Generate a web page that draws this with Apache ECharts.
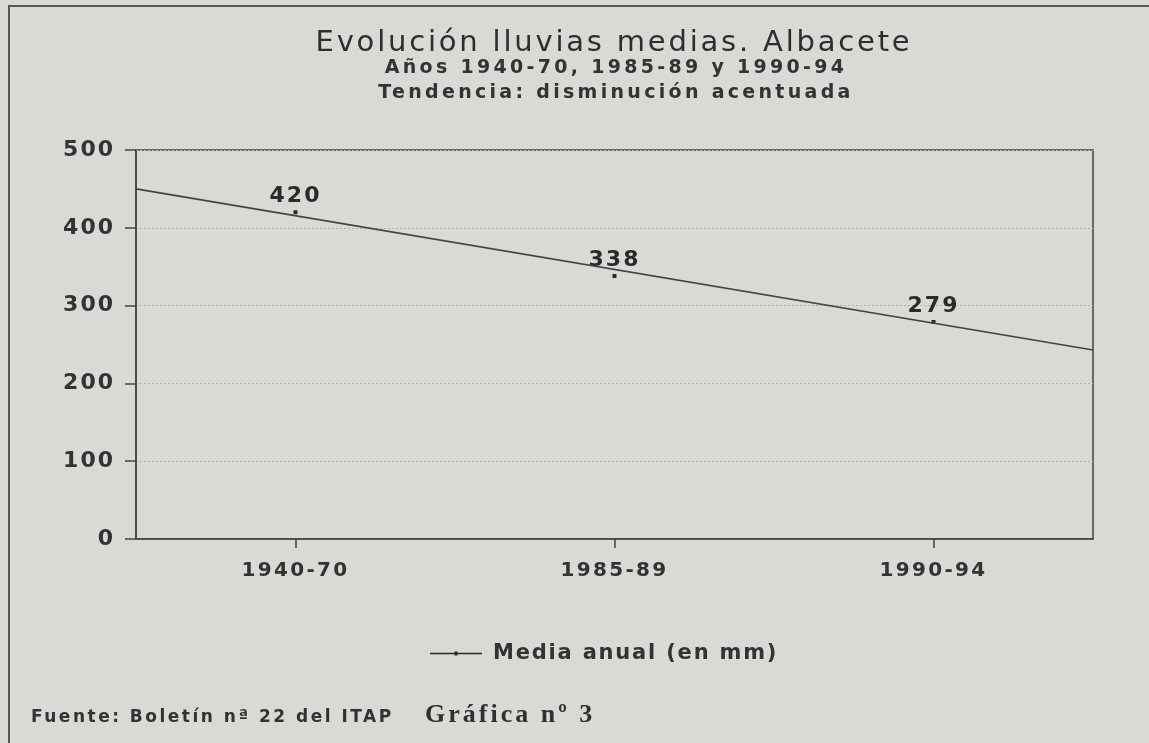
<!DOCTYPE html>
<html>
<head>
<meta charset="utf-8">
<script src="https://cdn.jsdelivr.net/npm/echarts@6.0.0/dist/echarts.min.js"></script>
<style>
  html, body { margin: 0; padding: 0; background: #d9d9d5; }
  #chart { width: 1149px; height: 743px; }
</style>
</head>
<body>
<div id="chart"></div>
<script>
// ---- data ----
const categories = ['1940-70', '1985-89', '1990-94'];
const mediaAnual = [420, 338, 279];
// trend line: value at the left plot edge and at the right plot edge (category units -0.5 .. 2.5)
const trendX = [-0.5, 2.5];
const trendValues = [450, 243];
const yMin = 0, yMax = 500, yInterval = 100;

const titleText = 'Evolución lluvias medias. Albacete';
const subtitle1 = 'Años 1940-70, 1985-89 y 1990-94';
const subtitle2 = 'Tendencia: disminución acentuada';
const seriesName = 'Media anual (en mm)';
const sourceText = 'Fuente: Boletín nª 22 del ITAP';
const chartNumber = 'Gráfica nº 3';

// ---- styling ----
const TEXT = '#333333';
const LINE = '#434343';
const SANS = 'DejaVu Sans';
// the printed original uses widely letter-spaced type; spacing per font size (px)
const SPACING = { 29: 2.8, 19: 3.3, 22: 2, 21: 1.8, 20: 2.3, 17: 2.5, 26: 3 };
(function () {
  const proto = CanvasRenderingContext2D.prototype;
  const orig = proto.fillText;
  proto.fillText = function (t, x, y, w) {
    const m = /(\d+(?:\.\d+)?)px/.exec(this.font || '');
    const s = m ? (SPACING[Math.round(+m[1])] || 0) : 0;
    try { this.letterSpacing = s + 'px'; } catch (e) {}
    return w === undefined ? orig.call(this, t, x, y) : orig.call(this, t, x, y, w);
  };
})();

const chart = echarts.init(document.getElementById('chart'), null, { renderer: 'canvas' });

const option = {
  backgroundColor: '#d9d9d5',
  animation: false,
  textStyle: { fontFamily: SANS },
  title: [
    { text: titleText, left: 614, top: 29, textAlign: 'center', padding: 0,
      textStyle: { fontSize: 29, fontWeight: 'normal', color: '#2e2e2e', fontFamily: SANS } },
    { text: subtitle1, left: 616, top: 59, textAlign: 'center', padding: 0,
      textStyle: { fontSize: 19, fontWeight: 'bold', color: TEXT, fontFamily: SANS } },
    { text: subtitle2, left: 616, top: 84, textAlign: 'center', padding: 0,
      textStyle: { fontSize: 19, fontWeight: 'bold', color: TEXT, fontFamily: SANS } },
    { text: sourceText, left: 31, top: 709, padding: 0,
      textStyle: { fontSize: 17, fontWeight: 'bold', color: TEXT, fontFamily: SANS } },
    { text: chartNumber, left: 425, top: 702, padding: 0,
      textStyle: { fontSize: 26, fontWeight: 'bold', color: '#303030', fontFamily: 'Liberation Serif' } }
  ],
  legend: {
    data: [{
      name: seriesName,
      icon: 'path://M0,1.3L52,1.3L52,2.7L0,2.7Z M24.5,0L27.5,0L27.5,4L24.5,4Z'
    }],
    left: 430, top: 643, padding: 0,
    itemWidth: 52, itemHeight: 4,
    selectedMode: false,
    itemStyle: { color: '#2a2a2a' },
    textStyle: { fontSize: 21, fontWeight: 'bold', color: TEXT, padding: [0, 0, 0, 6] }
  },
  graphic: [
    { type: 'rect', silent: true, shape: { x: 9, y: 6, width: 1300, height: 900 },
      style: { fill: 'none', stroke: '#555', lineWidth: 2 } }
  ],
  grid: {
    left: 136, right: 56, top: 150, bottom: 204,
    show: true, borderColor: LINE, borderWidth: 1.5, backgroundColor: 'transparent',
    containLabel: false, outerBoundsMode: 'none'
  },
  xAxis: [
    {
      type: 'category', data: categories, boundaryGap: true,
      axisLine: { show: true, onZero: false, lineStyle: { color: LINE, width: 1.5 } },
      axisTick: { show: true, alignWithLabel: true, length: 9, lineStyle: { color: LINE, width: 1.5 } },
      axisLabel: { fontSize: 20, fontWeight: 'bold', color: TEXT, margin: 22 },
      splitLine: { show: false }
    },
    { type: 'value', min: trendX[0], max: trendX[trendX.length - 1], show: false }
  ],
  yAxis: {
    type: 'value', min: yMin, max: yMax, interval: yInterval,
    axisLine: { show: true, onZero: false, lineStyle: { color: LINE, width: 1.5 } },
    axisTick: { show: true, length: 11, lineStyle: { color: LINE, width: 1.5 } },
    axisLabel: { fontSize: 22, fontWeight: 'bold', color: TEXT, margin: 21 },
    splitLine: { show: true, lineStyle: { color: '#b2b2ad', type: [2, 2], width: 1 } }
  },
  series: [
    {
      name: 'Tendencia', type: 'line', xAxisIndex: 1, silent: true,
      data: trendX.map((x, i) => [x, trendValues[i]]),
      symbol: 'none', lineStyle: { color: LINE, width: 1.6 }
    },
    {
      name: seriesName, type: 'scatter', xAxisIndex: 0,
      data: mediaAnual, symbol: 'rect', symbolSize: 4,
      itemStyle: { color: '#2a2a2a', opacity: 1 },
      label: { show: true, position: 'top', distance: 3, fontSize: 22, fontWeight: 'bold', color: '#2a2a2a', opacity: 1 }
    }
  ]
};
chart.setOption(option);
</script>
</body>
</html>
